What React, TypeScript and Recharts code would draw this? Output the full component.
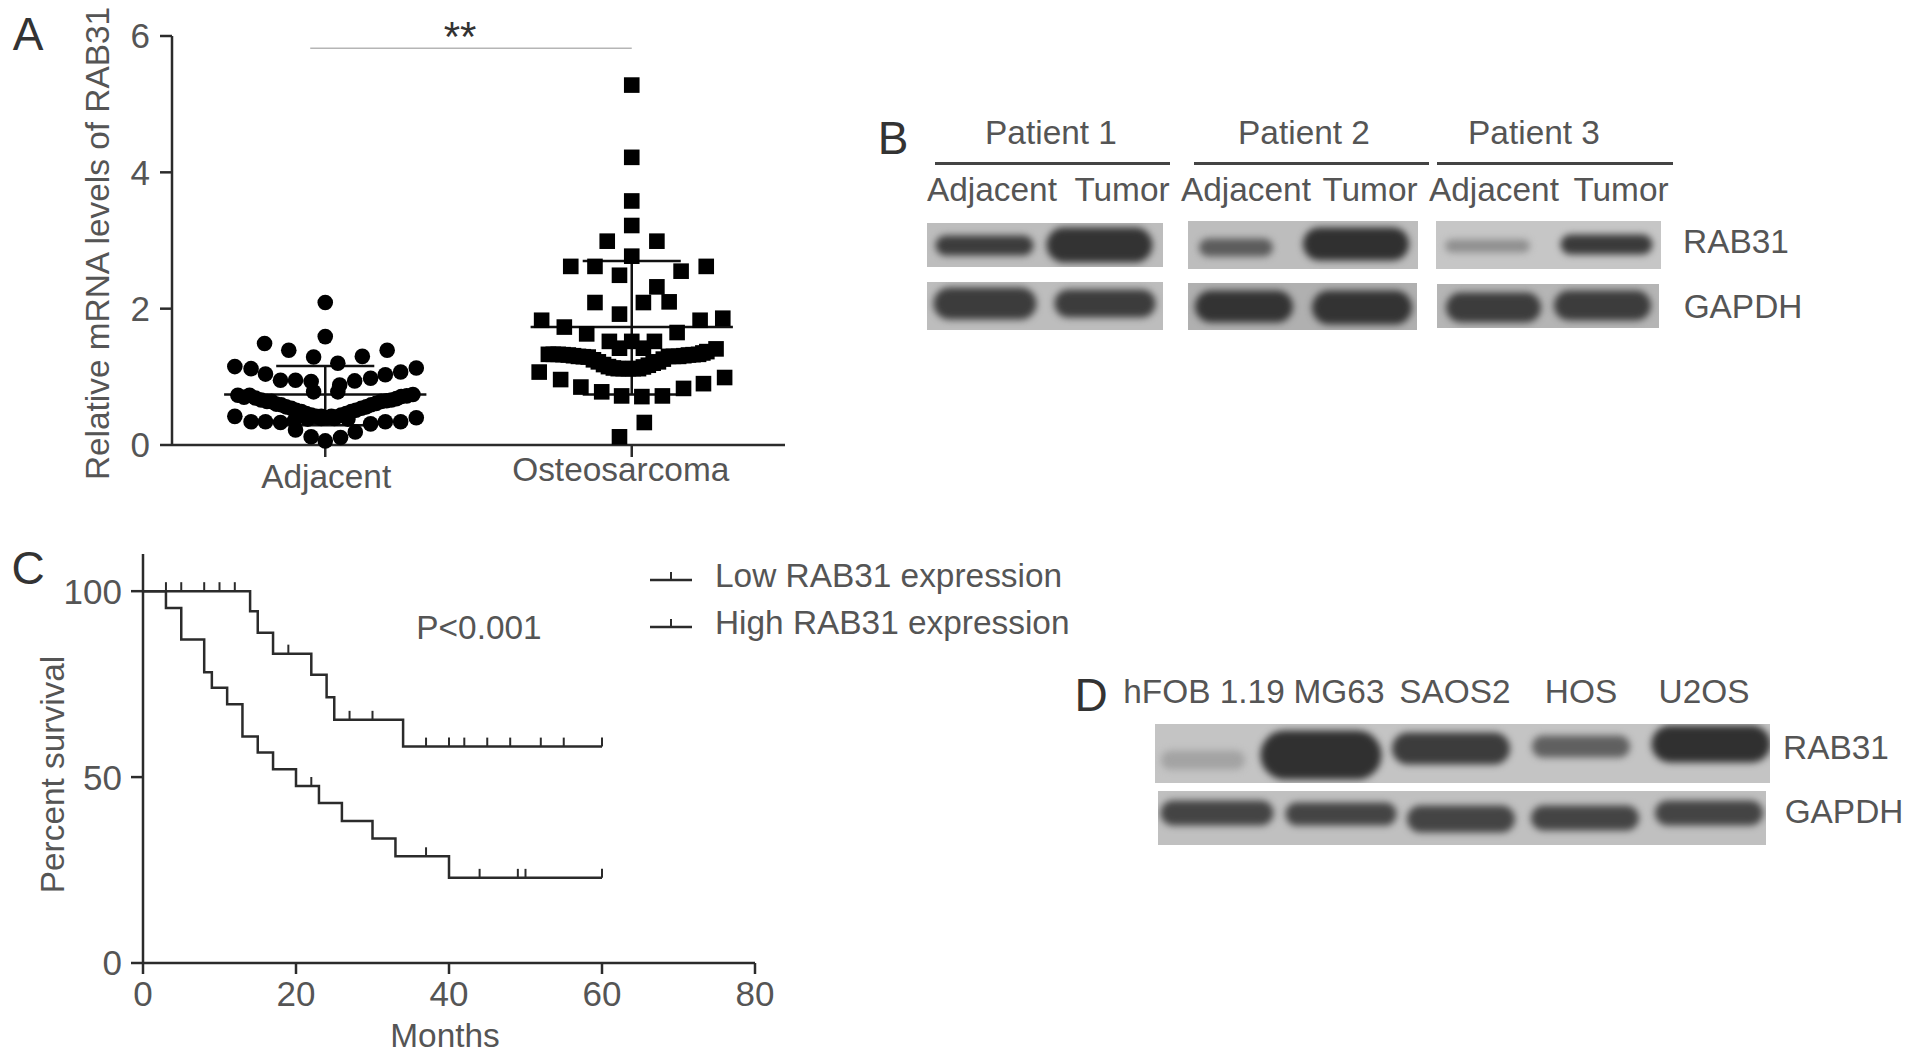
import { BarChart, Bar, ScatterChart, Scatter, LineChart, Line, XAxis, YAxis, ReferenceLine, Legend } from "recharts";

const FONT = "'Liberation Sans', Arial, sans-serif";
const TEXT = "#555";
const INK = "#2b2b2b";

// panel A, x is the offset from the group centre
const adjacentOffsets = [0, 0, -0.198, -0.119, -0.038, 0.121, 0.202, 0.041, -0.295, -0.242, -0.195, -0.146, -0.097, -0.046, -0.038, 0.041, 0.047, 0.096, 0.148, 0.196, 0.246, 0.297, -0.285, -0.247, -0.209, -0.176, -0.144, -0.111, -0.078, -0.046, -0.013, 0.02, 0.052, 0.085, 0.118, 0.15, 0.183, 0.216, 0.248, 0.286, -0.295, -0.242, -0.195, -0.146, -0.097, -0.046, 0, 0.05, 0.098, 0.148, 0.196, 0.246, 0.297, -0.1, -0.057, -0.013, 0.03, 0.074, -0.265, -0.228, -0.19, -0.16, -0.128, -0.095, -0.062, -0.03, 0.005, 0.036, 0.068, 0.1, 0.134, 0.166, 0.2, 0.232, 0.266];
const adjacentValues = [2.09, 1.59, 1.49, 1.39, 1.29, 1.3, 1.39, 1.2, 1.15, 1.12, 1.04, 0.95, 0.95, 0.93, 0.78, 0.78, 0.88, 0.94, 0.98, 1.03, 1.07, 1.13, 0.73, 0.73, 0.66, 0.64, 0.59, 0.54, 0.49, 0.44, 0.42, 0.42, 0.44, 0.49, 0.54, 0.59, 0.64, 0.66, 0.71, 0.74, 0.42, 0.34, 0.34, 0.33, 0.22, 0.12, 0.06, 0.11, 0.19, 0.31, 0.34, 0.34, 0.4, 0.36, 0.38, 0.39, 0.39, 0.38, 0.7, 0.69, 0.64, 0.6, 0.56, 0.51, 0.46, 0.42, 0.4, 0.41, 0.46, 0.51, 0.56, 0.61, 0.65, 0.68, 0.72];
const osteoOffsets = [0, 0, 0, 0, 0, -0.08, 0.082, -0.199, -0.12, 0.161, 0.243, -0.04, 0.082, 0.038, 0.122, -0.12, -0.04, -0.294, 0.297, 0.223, -0.22, 0.148, -0.147, -0.073, 0, 0.074, -0.04, 0.038, 0.275, -0.272, -0.24, -0.207, -0.174, -0.142, -0.109, -0.076, -0.044, -0.011, 0.022, 0.054, 0.087, 0.12, 0.153, 0.185, 0.218, 0.245, -0.302, -0.232, -0.166, -0.098, -0.033, 0.033, 0.1, 0.169, 0.234, 0.303, 0.041, -0.04, -0.256, -0.224, -0.19, -0.158, -0.125, -0.092, -0.06, -0.028, 0.005, 0.038, 0.07, 0.103, 0.136, 0.17, 0.2, 0.232];
const osteoValues = [5.28, 4.22, 3.58, 3.22, 2.77, 2.99, 2.99, 2.62, 2.62, 2.55, 2.62, 2.49, 2.32, 2.09, 2.1, 2.09, 1.92, 1.83, 1.86, 1.83, 1.73, 1.65, 1.63, 1.52, 1.52, 1.52, 1.42, 1.42, 1.41, 1.33, 1.33, 1.32, 1.3, 1.29, 1.22, 1.15, 1.12, 1.12, 1.12, 1.17, 1.22, 1.3, 1.3, 1.32, 1.33, 1.37, 1.07, 0.96, 0.85, 0.78, 0.72, 0.71, 0.72, 0.83, 0.9, 0.99, 0.33, 0.12, 1.33, 1.325, 1.31, 1.295, 1.25, 1.18, 1.13, 1.12, 1.12, 1.145, 1.2, 1.26, 1.3, 1.31, 1.325, 1.35];
const groupNames = ["Adjacent", "Osteosarcoma"];
const groupMeans = [0.74, 1.73];
const groupSdLow = [0.29, 0.74];
const groupSdHigh = [1.16, 2.7];

// panel C, steps of the survival curves and censored patients
const lowMonths = [0, 14, 15, 17, 22, 24, 25, 34];
const lowSurvival = [100, 94.6, 88.8, 83.2, 77.5, 71.5, 65.4, 58.2];
const lowCensored = [3, 5, 8, 10, 12, 19, 27, 30, 37, 40, 42, 45, 48, 52, 55, 60];
const highMonths = [0, 3, 5, 8, 9, 11, 13, 15, 17, 20, 23, 26, 30, 33, 40];
const highSurvival = [100, 95.5, 87, 78.2, 74, 69.6, 60.9, 56.6, 52.1, 47.6, 43, 38.2, 33.5, 28.7, 22.9];
const highCensored = [22, 37, 44, 49, 50, 60];

const toPoints = (offsets: number[], values: number[], group: number) =>
  offsets.map((o, i) => ({ x: group + o, y: values[i] }));

const toCurve = (months: number[], survival: number[], censored: number[]) => {
  const all = Array.from(new Set([...months, ...censored])).sort((a, b) => a - b);
  return all.map((month) => {
    let value = survival[0];
    months.forEach((m, i) => { if (m <= month) value = survival[i]; });
    return { month, value, censored: censored.includes(month) };
  });
};

const Txt = ({ x, y, size = 33.4, color = TEXT, children }: any) => (
  <div style={{ position: "absolute", left: x, top: y, transform: "translate(-50%, -50%)", fontFamily: FONT, fontSize: size, color, whiteSpace: "nowrap", lineHeight: 1 }}>
    {children}
  </div>
);

const Rule = ({ x1, x2, y }: any) => (
  <div style={{ position: "absolute", left: x1, top: y - 1, width: x2 - x1, height: 2.5, background: "#444" }} />
);

const Dot = ({ cx, cy }: any) => <circle cx={cx} cy={cy} r={7.8} fill="#000" />;
const Square = ({ cx, cy }: any) => <rect x={cx - 7.8} y={cy - 7.8} width={15.6} height={15.6} fill="#000" />;

const CensorDot = ({ cx, cy, payload, index }: any) =>
  payload.censored ? <line key={index} x1={cx} x2={cx} y1={cy} y2={cy - 9} stroke={INK} strokeWidth={2} /> : <g key={index} />;

// the two group labels do not sit on one line in the original
const GroupTick = ({ x, y, payload }: any) => {
  const isOsteo = payload.value === 2;
  return (
    <text x={x + (isOsteo ? -11 : 1)} y={y + (isOsteo ? 19 : 26)} textAnchor="middle" fill={TEXT} fontSize={33.4} fontFamily={FONT}>
      {groupNames[payload.value - 1]}
    </text>
  );
};

const BlotBand = ({ x, y, width, height, payload }: any) => {
  const cx = x + width / 2;
  const h = Math.abs(height) + 5;
  return (
    <rect
      x={cx - payload.size / 2}
      y={Math.min(y, y + height) - 2.5}
      width={payload.size}
      height={h}
      rx={h / 2}
      fill={payload.shade}
      style={{ filter: "blur(3.5px)" }}
    />
  );
};

const BlotStrip = ({ left, top, width, height, bg = "#bdbdbd", centers, sizes, tops, bottoms, shades }: any) => {
  const rows = centers.map((center: number, i: number) => ({
    center,
    size: sizes[i],
    span: [tops[i], bottoms[i]],
    shade: shades[i],
  }));
  return (
    <div style={{ position: "absolute", left, top, width, height, background: bg, overflow: "hidden" }}>
      <BarChart width={width} height={height} data={rows} margin={{ top: 0, right: 0, bottom: 0, left: 0 }}>
        <XAxis hide type="number" dataKey="center" domain={[0, width]} />
        <YAxis hide reversed domain={[0, height]} />
        <Bar dataKey="span" barSize={10} shape={BlotBand} isAnimationActive={false} />
      </BarChart>
    </div>
  );
};

const p1Rab = { centers: [57, 172], sizes: [98, 106], tops: [15, 7], bottoms: [30, 37], shades: ["#3c3c3c", "#333"] };
const p2Rab = { centers: [48, 168], sizes: [74, 106], tops: [20, 9], bottoms: [33, 37], shades: ["#5c5c5c", "#303030"] };
const p3Rab = { centers: [51, 170], sizes: [85, 92], tops: [21, 16], bottoms: [29, 31], shades: ["#8f8f8f", "#3a3a3a"] };
const p1Gapdh = { centers: [58, 178], sizes: [103, 101], tops: [8, 10], bottoms: [35, 33], shades: ["#3c3c3c", "#3c3c3c"] };
const p2Gapdh = { centers: [56, 174], sizes: [98, 100], tops: [10, 10], bottoms: [37, 39], shades: ["#333", "#333"] };
const p3Gapdh = { centers: [56, 165], sizes: [95, 97], tops: [11, 9], bottoms: [36, 34], shades: ["#3c3c3c", "#3c3c3c"] };
const lineRab = { centers: [48, 166, 296, 426, 556], sizes: [84, 121, 118, 98, 119], tops: [29, 9, 11, 14, 4], bottoms: [43, 53, 38, 31, 36], shades: ["#a3a3a3", "#303030", "#3c3c3c", "#606060", "#303030"] };
const lineGapdh = { centers: [59, 183, 303, 427, 551], sizes: [113, 111, 108, 108, 108], tops: [12, 14, 17, 17, 12], bottoms: [32, 32, 39, 37, 32], shades: ["#444", "#444", "#444", "#444", "#444"] };

const PanelA = () => {
  const axisTick = { fill: TEXT, fontSize: 35, fontFamily: FONT };
  return (
    <div style={{ position: "absolute", left: 0, top: 0 }}>
      <ScatterChart width={800} height={500} margin={{ top: 36, right: 15, bottom: 0, left: 72 }}>
        <XAxis
          type="number"
          dataKey="x"
          domain={[0.5, 2.5]}
          ticks={[1, 2]}
          tick={GroupTick}
          tickSize={12}
          tickMargin={5}
          height={55}
          stroke={INK}
          strokeWidth={2.5}
        />
        <YAxis
          type="number"
          dataKey="y"
          domain={[0, 6]}
          ticks={[0, 2, 4, 6]}
          tick={axisTick}
          tickSize={12}
          tickMargin={10}
          width={100}
          stroke={INK}
          strokeWidth={2.5}
          label={{ value: "Relative mRNA levels of RAB31", angle: -90, position: "insideLeft", offset: 25, dy: 3, style: { textAnchor: "middle", fill: TEXT, fontSize: 33.4, fontFamily: FONT } }}
        />
        <ReferenceLine segment={[{ x: 0.951, y: 5.82 }, { x: 2, y: 5.82 }]} stroke="#b5b5b5" strokeWidth={1.5} />
        {groupMeans.map((mean, i) => {
          const c = i + 1;
          return [
            <ReferenceLine key={`m${i}`} segment={[{ x: c - 0.33, y: mean }, { x: c + 0.33, y: mean }]} stroke="#111" strokeWidth={2.5} />,
            <ReferenceLine key={`s${i}`} segment={[{ x: c, y: groupSdLow[i] }, { x: c, y: groupSdHigh[i] }]} stroke="#111" strokeWidth={2.5} />,
            <ReferenceLine key={`h${i}`} segment={[{ x: c - 0.16, y: groupSdHigh[i] }, { x: c + 0.16, y: groupSdHigh[i] }]} stroke="#111" strokeWidth={2.5} />,
            <ReferenceLine key={`l${i}`} segment={[{ x: c - 0.16, y: groupSdLow[i] }, { x: c + 0.16, y: groupSdLow[i] }]} stroke="#111" strokeWidth={2.5} />,
          ];
        })}
        <Scatter name="Adjacent" data={toPoints(adjacentOffsets, adjacentValues, 1)} shape={Dot} isAnimationActive={false} />
        <Scatter name="Osteosarcoma" data={toPoints(osteoOffsets, osteoValues, 2)} shape={Square} isAnimationActive={false} />
      </ScatterChart>
    </div>
  );
};

const SurvivalLegend = ({ payload }: any) => (
  <div>
    {(payload || []).map((entry: any) => (
      <div key={entry.value} style={{ display: "flex", alignItems: "center", height: 47, fontFamily: FONT, fontSize: 33.4, color: TEXT, whiteSpace: "nowrap" }}>
        <svg width={65} height={20} style={{ flex: "none" }}>
          <line x1={0} x2={42} y1={14} y2={14} stroke={INK} strokeWidth={2.5} />
          <line x1={21} x2={21} y1={14} y2={6} stroke={INK} strokeWidth={2} />
        </svg>
        {entry.value}
      </div>
    ))}
  </div>
);

const PanelC = () => {
  const axisTick = { fill: TEXT, fontSize: 35, fontFamily: FONT };
  return (
    <div style={{ position: "absolute", left: 0, top: 0 }}>
      <LineChart width={1100} height={1060} margin={{ top: 554, right: 345, bottom: 0, left: 43 }}>
        <XAxis
          type="number"
          dataKey="month"
          domain={[0, 80]}
          ticks={[0, 20, 40, 60, 80]}
          allowDuplicatedCategory={false}
          tick={axisTick}
          tickSize={11}
          tickMargin={7}
          height={97}
          stroke={INK}
          strokeWidth={2.5}
          label={{ value: "Months", position: "insideBottom", offset: 13, dx: -4, style: { fill: TEXT, fontSize: 33.4, fontFamily: FONT } }}
        />
        <YAxis
          type="number"
          domain={[0, 110]}
          ticks={[0, 50, 100]}
          tick={axisTick}
          tickSize={12}
          tickMargin={9}
          width={100}
          stroke={INK}
          strokeWidth={2.5}
          label={{ value: "Percent survival", angle: -90, position: "insideLeft", offset: 9, dy: 16, style: { textAnchor: "middle", fill: TEXT, fontSize: 33.4, fontFamily: FONT } }}
        />
        <Line name="Low RAB31 expression" data={toCurve(lowMonths, lowSurvival, lowCensored)} dataKey="value" type="stepAfter" stroke={INK} strokeWidth={2.5} dot={CensorDot} activeDot={false} isAnimationActive={false} />
        <Line name="High RAB31 expression" data={toCurve(highMonths, highSurvival, highCensored)} dataKey="value" type="stepAfter" stroke={INK} strokeWidth={2.5} dot={CensorDot} activeDot={false} isAnimationActive={false} />
        <Legend layout="vertical" align="center" verticalAlign="middle" itemSorter={null} content={SurvivalLegend} wrapperStyle={{ left: 650, top: 552, width: 440 }} />
      </LineChart>
    </div>
  );
};

export default function App() {
  return (
    <div style={{ position: "absolute", left: 0, top: 0, width: 1913, height: 1060, background: "#fff", overflow: "hidden" }}>
      <PanelA />
      <PanelC />

      <Txt x={28} y={34} size={46} color="#333">A</Txt>
      <Txt x={893} y={138} size={46} color="#333">B</Txt>
      <Txt x={28} y={568} size={46} color="#333">C</Txt>
      <Txt x={1091} y={695} size={46} color="#333">D</Txt>

      <Txt x={460} y={37} size={42} color="#333">**</Txt>
      <Txt x={479} y={628}>P&lt;0.001</Txt>

      <Txt x={1051} y={133}>Patient 1</Txt>
      <Txt x={1304} y={133}>Patient 2</Txt>
      <Txt x={1534} y={133}>Patient 3</Txt>
      <Rule x1={935} x2={1170} y={163} />
      <Rule x1={1194} x2={1429} y={163} />
      <Rule x1={1437} x2={1673} y={163} />
      <Txt x={992} y={190}>Adjacent</Txt>
      <Txt x={1122} y={190}>Tumor</Txt>
      <Txt x={1246} y={190}>Adjacent</Txt>
      <Txt x={1370} y={190}>Tumor</Txt>
      <Txt x={1494} y={190}>Adjacent</Txt>
      <Txt x={1621} y={190}>Tumor</Txt>

      <BlotStrip left={927} top={223} width={236} height={44} {...p1Rab} />
      <BlotStrip left={1188} top={221} width={230} height={48} {...p2Rab} />
      <BlotStrip left={1436} top={221} width={225} height={48} bg="#c6c6c6" {...p3Rab} />
      <BlotStrip left={927} top={282} width={236} height={48} {...p1Gapdh} />
      <BlotStrip left={1188} top={283} width={229} height={47} bg="#b0b0b0" {...p2Gapdh} />
      <BlotStrip left={1437} top={284} width={222} height={44} bg="#b5b5b5" {...p3Gapdh} />
      <Txt x={1736} y={242}>RAB31</Txt>
      <Txt x={1743} y={307}>GAPDH</Txt>

      <Txt x={1204} y={692}>hFOB 1.19</Txt>
      <Txt x={1339} y={692}>MG63</Txt>
      <Txt x={1455} y={692}>SAOS2</Txt>
      <Txt x={1581} y={692}>HOS</Txt>
      <Txt x={1704} y={692}>U2OS</Txt>
      <BlotStrip left={1155} top={724} width={615} height={59} bg="#c4c4c4" {...lineRab} />
      <BlotStrip left={1158} top={791} width={608} height={54} bg="#c0c0c0" {...lineGapdh} />
      <Txt x={1836} y={748}>RAB31</Txt>
      <Txt x={1844} y={812}>GAPDH</Txt>
    </div>
  );
}
